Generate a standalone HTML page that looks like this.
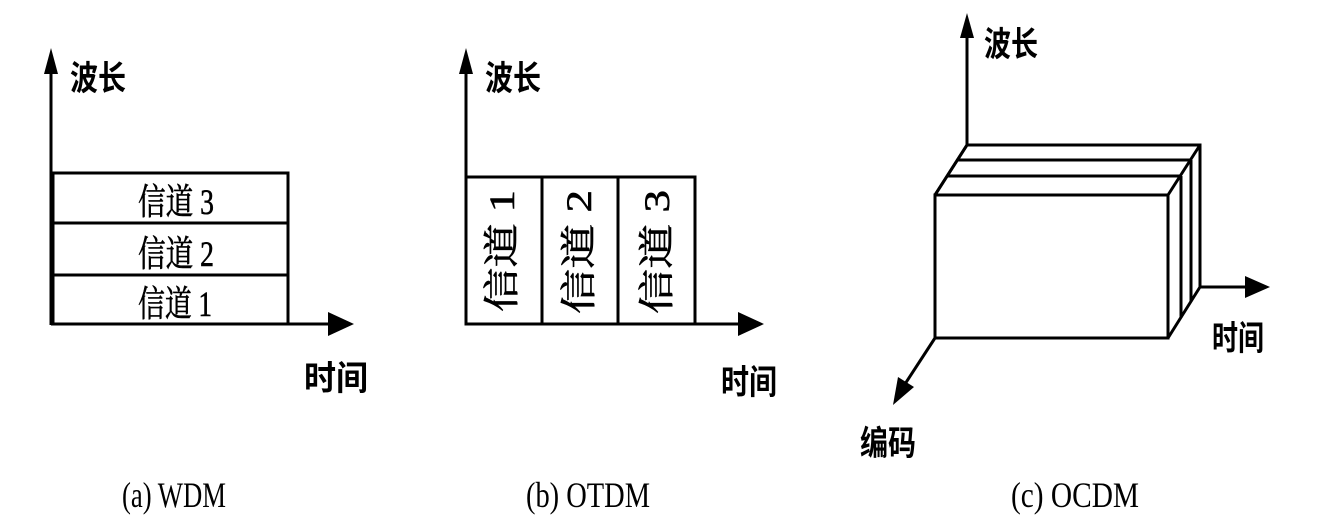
<!DOCTYPE html>
<html><head><meta charset="utf-8"><style>html,body{margin:0;padding:0;background:#fff}svg{display:block}</style></head>
<body>
<svg width="1321" height="520" viewBox="0 0 1321 520" xmlns="http://www.w3.org/2000/svg">
<g stroke="#000" fill="none" stroke-width="3">
<line x1="51" y1="70" x2="51" y2="325"/>
<line x1="51" y1="324" x2="330" y2="324"/>
<rect x="53" y="173" width="235" height="151"/>
<line x1="53" y1="223" x2="288" y2="223"/>
<line x1="53" y1="275" x2="288" y2="275"/>
<line x1="466" y1="70" x2="466" y2="325"/>
<line x1="466" y1="324" x2="740" y2="324"/>
<rect x="466" y="177" width="229" height="147"/>
<line x1="542" y1="177" x2="542" y2="324"/>
<line x1="618" y1="177" x2="618" y2="324"/>
<line x1="967" y1="35" x2="967" y2="145"/>
<polygon points="967,145 1200,145 1200,287 1168,338 935,338 935,195"/>
<rect x="935" y="195" width="233" height="143"/>
<line x1="967" y1="145" x2="935" y2="195"/>
<line x1="1200" y1="145" x2="1168" y2="195"/>
<line x1="958" y1="160" x2="1191" y2="160"/>
<line x1="948" y1="176" x2="1181" y2="176"/>
<line x1="1191" y1="160" x2="1191" y2="302"/>
<line x1="1181" y1="176" x2="1181" y2="318"/>
<line x1="1200" y1="287" x2="1248" y2="287"/>
<line x1="935" y1="338" x2="905" y2="384"/>
</g>
<g fill="#000">
<polygon points="51,48 44,74 58,74"/>
<polygon points="354,324 328,312 328,336"/>
<polygon points="466,48 459,74 473,74"/>
<polygon points="764,324 738,312 738,336"/>
<polygon points="967,13 960,38 974,38"/>
<polygon points="1270,287 1245,276 1245,298"/>
<polygon points="893,405 898,377 914,387"/>
</g>
<g font-family="'Liberation Sans','Noto Sans CJK SC',sans-serif" font-weight="bold" font-size="34" fill="#000">
<text x="70" y="90" textLength="56" lengthAdjust="spacingAndGlyphs">波长</text>
<text x="485" y="90" textLength="56" lengthAdjust="spacingAndGlyphs">波长</text>
<text x="984" y="56" textLength="54" lengthAdjust="spacingAndGlyphs">波长</text>
<text x="304" y="390" textLength="64" lengthAdjust="spacingAndGlyphs">时间</text>
<text x="721" y="394" textLength="56" lengthAdjust="spacingAndGlyphs">时间</text>
<text x="1212" y="350" textLength="52" lengthAdjust="spacingAndGlyphs">时间</text>
<text x="860" y="455" textLength="56" lengthAdjust="spacingAndGlyphs">编码</text>
</g>
<g font-family="'Liberation Serif','Noto Serif CJK SC',serif" font-size="36" fill="#000" stroke="#000" stroke-width="0.6">
<text x="138" y="214" textLength="76" lengthAdjust="spacingAndGlyphs">信道 3</text>
<text x="138" y="266" textLength="76" lengthAdjust="spacingAndGlyphs">信道 2</text>
<text x="138" y="316" textLength="74" lengthAdjust="spacingAndGlyphs">信道 1</text>
<text transform="translate(514,312) rotate(-90)" textLength="122" lengthAdjust="spacingAndGlyphs">信道 1</text>
<text transform="translate(591,314) rotate(-90)" textLength="124" lengthAdjust="spacingAndGlyphs">信道 2</text>
<text transform="translate(669,314) rotate(-90)" textLength="124" lengthAdjust="spacingAndGlyphs">信道 3</text>
</g>
<g font-family="'Liberation Serif',serif" font-size="36" fill="#000">
<text x="122" y="507" textLength="104" lengthAdjust="spacingAndGlyphs">(a) WDM</text>
<text x="526" y="507" textLength="124" lengthAdjust="spacingAndGlyphs">(b) OTDM</text>
<text x="1011" y="507" textLength="128" lengthAdjust="spacingAndGlyphs">(c) OCDM</text>
</g>
</svg>
</body></html>
